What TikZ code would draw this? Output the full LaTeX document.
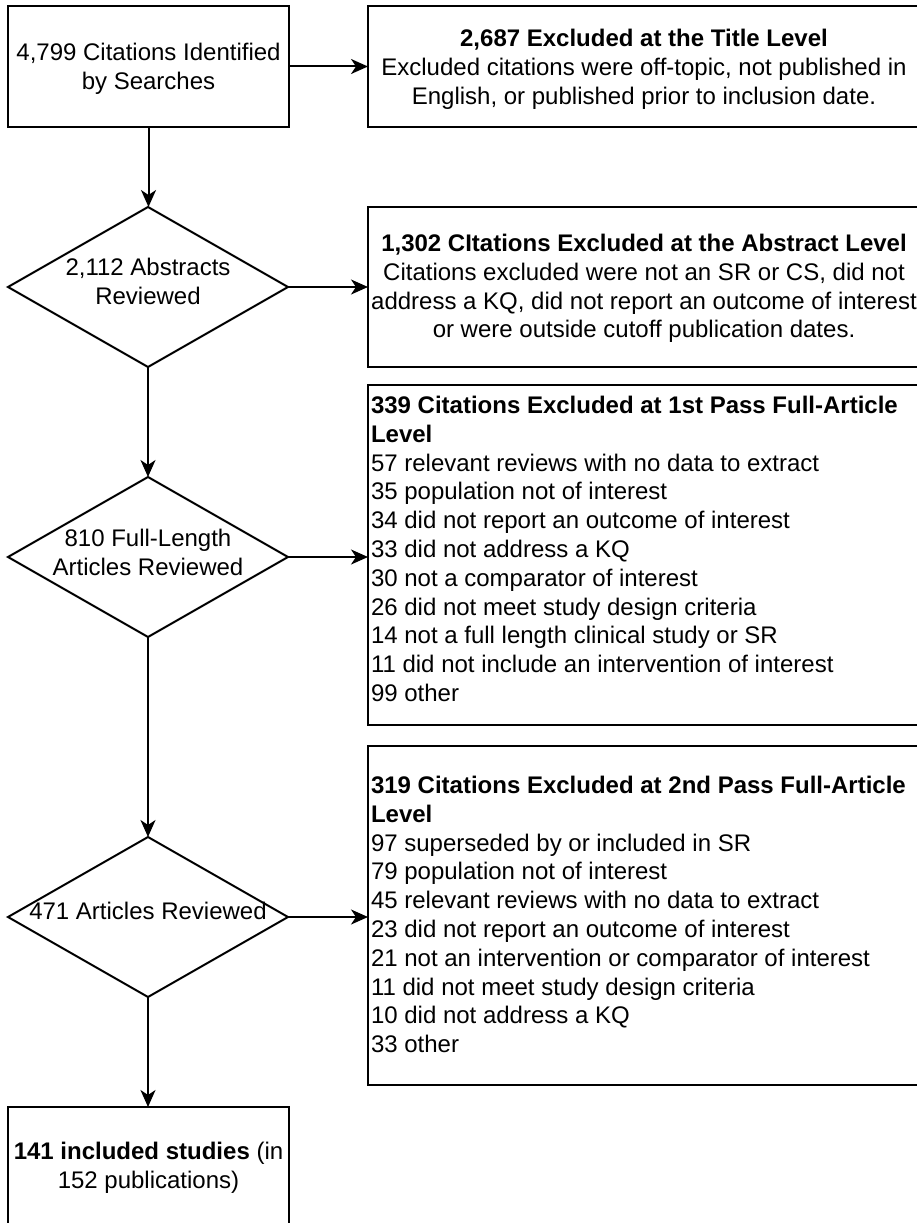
\documentclass[tikz,border=0pt]{standalone}
\usepackage{fontspec}
\setmainfont{Liberation Sans}
\usetikzlibrary{arrows.meta,shapes.geometric}
\begin{document}
\begin{tikzpicture}[x=1pt,y=-1pt,
  every node/.style={font=\fontsize{24}{28.8}\selectfont, inner sep=0pt, outer sep=0pt},
  box/.style={draw, line width=2pt, rectangle, anchor=north west},
  dia/.style={draw, line width=2pt, diamond, minimum width=280pt, minimum height=160pt},
  arr/.style={line width=2pt, -{Stealth[length=17pt,width=15pt,inset=5pt]}},
  txt/.style={align=center},
  lst/.style={align=left, anchor=west}]
\useasboundingbox (0,0) rectangle (917,1223);
\fill[white] (0,0) rectangle (917,1223);
\clip (0,0) rectangle (917,1223);

% left column
\node[box, minimum width=281pt, minimum height=121pt] (b1) at (8,6) {};
\node[txt] (b1t) at (148.5,69) {4,799 Citations Identified\\by Searches};
\node[dia] (d1) at (148,287) {};
\node[txt] (d1t) at (148,281.4) {2,112 Abstracts\\Reviewed};
\node[dia] (d2) at (148,557) {};
\node[txt] (d2t) at (148,552.4) {810 Full-Length\\Articles Reviewed};
\node[dia] (d3) at (148,917) {};
\node[txt] (d3t) at (148,911.4) {471 Articles Reviewed};
\node[box, minimum width=281pt, minimum height=122pt, align=center] (b5) at (8,1107)
  {\textbf{141 included studies} (in\\152 publications)};

% right column
\node[box, minimum width=552pt, minimum height=121pt] (r1) at (368,6) {};
\node[txt] (r1t) at (644,69.5)
  {\textbf{2,687 Excluded at the Title Level}\\Excluded citations were off-topic, not published in\\English, or published prior to inclusion date.};
\node[box, minimum width=552pt, minimum height=160pt] (r2) at (368,207) {};
\node[txt] (r2t) at (644,288.5)
  {\textbf{1,302 CItations Excluded at the Abstract Level}\\Citations excluded were not an SR or CS, did not\\address a KQ, did not report an outcome of interest\\or were outside cutoff publication dates.};
\node[box, minimum width=552pt, minimum height=340pt] (r3) at (368,385) {};
\node[lst] (r3t) at (371,549)
  {\textbf{339 Citations Excluded at 1st Pass Full-Article}\\\textbf{Level}\\57 relevant reviews with no data to extract\\35 population not of interest\\34 did not report an outcome of interest\\33 did not address a KQ\\30 not a comparator of interest\\26 did not meet study design criteria\\14 not a full length clinical study or SR\\11 did not include an intervention of interest\\99 other};
\node[box, minimum width=552pt, minimum height=339pt] (r4) at (368,746) {};
\node[lst] (r4t) at (371,914.5)
  {\textbf{319 Citations Excluded at 2nd Pass Full-Article}\\\textbf{Level}\\97 superseded by or included in SR\\79 population not of interest\\45 relevant reviews with no data to extract\\23 did not report an outcome of interest\\21 not an intervention or comparator of interest\\11 did not meet study design criteria\\10 did not address a KQ\\33 other};

% connectors
\draw[arr] (b1.east) -- (b1.east -| r1.west);
\draw[arr] (b1.south) -- (b1.south |- d1.north);
\draw[arr] (d1.east) -- (d1.east -| r2.west);
\draw[arr] (d1.south) -- (d2.north);
\draw[arr] (d2.east) -- (d2.east -| r3.west);
\draw[arr] (d2.south) -- (d3.north);
\draw[arr] (d3.east) -- (d3.east -| r4.west);
\draw[arr] (d3.south) -- (d3.south |- b5.north);
\end{tikzpicture}
\end{document}
